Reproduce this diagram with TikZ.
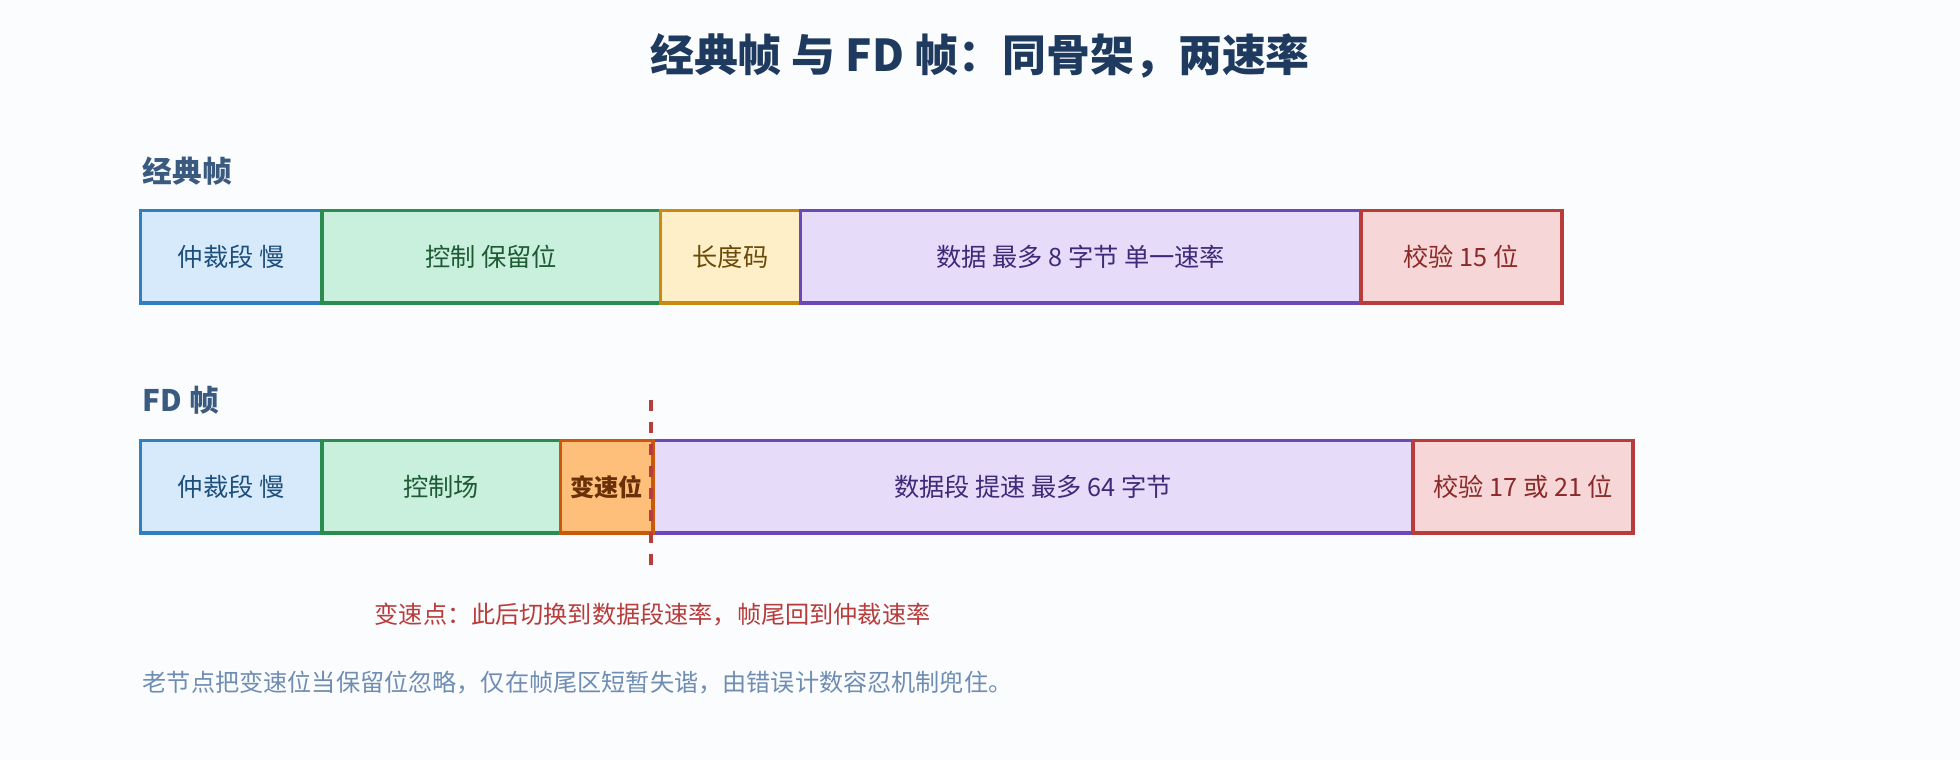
\documentclass[tikz,border=0pt]{standalone}
\usepackage{fontspec}
\setmainfont{Noto Sans CJK SC}
\usetikzlibrary{calc}
\definecolor{bgc}{HTML}{FBFCFE}
\definecolor{titlec}{HTML}{1F3A5F}
\definecolor{headc}{HTML}{3A5A80}
\definecolor{notec}{HTML}{6F8DB3}
\definecolor{bluef}{HTML}{D6EAFB}\definecolor{bluel}{HTML}{2F7FC1}\definecolor{bluet}{HTML}{1E4E7C}
\definecolor{greenf}{HTML}{C8F0DC}\definecolor{greenl}{HTML}{2A8C4E}\definecolor{greent}{HTML}{1E5A34}
\definecolor{yelf}{HTML}{FFEFC8}\definecolor{yell}{HTML}{C98A10}\definecolor{yelt}{HTML}{6A4A08}
\definecolor{purf}{HTML}{E6DCFA}\definecolor{purl}{HTML}{6A48B8}\definecolor{purt}{HTML}{3E2A78}
\definecolor{redf}{HTML}{F6D6D6}\definecolor{redl}{HTML}{B83C3C}\definecolor{redt}{HTML}{8A2A2A}
\definecolor{oraf}{HTML}{FDBF7A}\definecolor{oral}{HTML}{C85A0A}\definecolor{orat}{HTML}{6A3008}
\tikzset{seg/.style={draw,line width=1.7pt,anchor=north west,inner sep=0pt,minimum height=74*0.02cm,font=\fontsize{11.5}{12}\selectfont}}
\tikzset{hd/.style={anchor=west,text=headc,font=\fontsize{13.5}{14}\selectfont\bfseries}}
\begin{document}
\begin{tikzpicture}[x=0.02cm,y=-0.02cm]
        \fill[bgc] (0,0) rectangle (1568,608);
        \node[text=titlec,font=\fontsize{20}{22}\selectfont\bfseries] (title) at (784,45) {经典帧 与 FD 帧：同骨架，两速率};
        % classic frame
        \node[hd] (hclassic) at (108,137) {经典帧};
        \node[seg,fill=bluef,draw=bluel,text=bluet,minimum width=145*0.02cm] (c1) at (111,167) {仲裁段 慢};
        \node[seg,fill=greenf,draw=greenl,text=greent,minimum width=271*0.02cm] (c2) at (256,167) {控制 保留位};
        \node[seg,fill=yelf,draw=yell,text=yelt,minimum width=112*0.02cm] (c3) at (527,167) {长度码};
        \node[seg,fill=purf,draw=purl,text=purt,minimum width=448*0.02cm] (c4) at (639,167) {数据 最多 8 字节 单一速率};
        \node[seg,fill=redf,draw=redl,text=redt,minimum width=161*0.02cm] (c5) at (1087,167) {校验 15 位};
        % FD frame
        \node[hd] (hfd) at (108,320) {FD 帧};
        \node[seg,fill=bluef,draw=bluel,text=bluet,minimum width=145*0.02cm] (f1) at (111,351) {仲裁段 慢};
        \node[seg,fill=greenf,draw=greenl,text=greent,minimum width=191*0.02cm] (f2) at (256,351) {控制场};
        \node[seg,fill=purf,draw=purl,text=purt,minimum width=608*0.02cm] (f4) at (521,351) {数据段 提速 最多 64 字节};
        \node[seg,fill=oraf,draw=oral,text=orat,minimum width=74*0.02cm,font=\fontsize{11}{12}\selectfont\bfseries] (f3) at (447,351) {变速位};
        \node[seg,fill=redf,draw=redl,text=redt,minimum width=176*0.02cm] (f5) at (1129,351) {校验 17 或 21 位};
        \coordinate (sw1) at (521,320);
        \coordinate (sw2) at (521,458);
        \draw[redl,line width=1.7pt,dash pattern=on 5pt off 5pt] (sw1) -- (sw2);
        \node[text=redl,font=\fontsize{11}{12}\selectfont] (swtext) at (522,492) {变速点：此后切换到数据段速率，帧尾回到仲裁速率};
        \node[anchor=west,text=notec,font=\fontsize{11}{12}\selectfont] (note) at (108,546) {老节点把变速位当保留位忽略，仅在帧尾区短暂失谐，由错误计数容忍机制兜住。};
      \end{tikzpicture}
\end{document}
